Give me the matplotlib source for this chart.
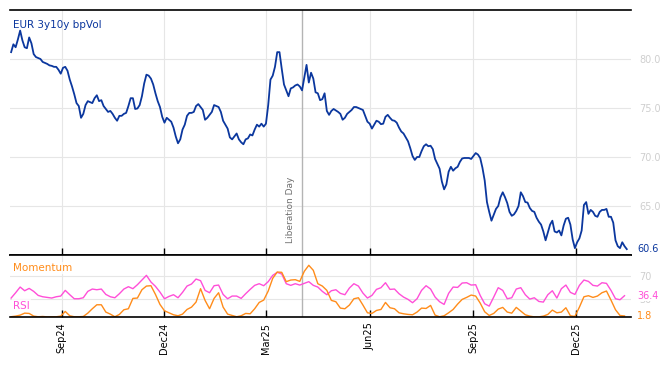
#!/usr/bin/env python3
"""EUR 3y10y bp vol with RSI / momentum sub-panel."""

import matplotlib

matplotlib.use("Agg")
import matplotlib.dates as mdates
import matplotlib.pyplot as plt
import matplotlib.transforms as mtransforms
import pandas as pd


OUT = "out.png"

# main series, one reading every 2 calendar days from the start date
VOL_START = "2024-07-18"
VOL = [
    80.7, 81.5, 81.2, 82.0, 82.9, 81.9, 81.2, 81.1, 82.2, 81.6,
    80.5, 80.2, 80.1, 80.0, 79.7, 79.6, 79.5, 79.35, 79.3, 79.2,
    79.2, 78.9, 78.5, 79.1, 79.2, 78.8, 77.9, 77.2, 76.4, 75.5,
    75.2, 74.0, 74.4, 75.3, 75.7, 75.6, 75.5, 76.0, 76.3, 75.7,
    75.8, 75.2, 74.9, 74.6, 74.7, 74.4, 74.0, 73.7, 74.2, 74.2,
    74.4, 74.5, 75.2, 76.0, 76.0, 74.9, 74.95, 75.3, 76.2, 77.5,
    78.4, 78.3, 78.0, 77.4, 76.5, 75.7, 75.1, 74.1, 73.5, 74.0,
    73.8, 73.6, 73.0, 72.1, 71.4, 71.8, 72.8, 73.3, 74.2, 74.5,
    74.5, 74.6, 75.2, 75.4, 75.1, 74.8, 73.8, 74.0, 74.3, 74.6,
    75.3, 75.2, 75.1, 74.6, 73.7, 73.3, 72.9, 72.0, 71.8, 72.1,
    72.4, 71.8, 71.5, 71.3, 71.8, 71.9, 72.3, 72.2, 72.8, 73.3,
    73.1, 73.4, 73.1, 73.4, 75.3, 77.9, 78.3, 79.2, 80.7, 80.7,
    79.0, 77.4, 76.8, 76.2, 77.0, 77.1, 77.3, 77.4, 77.2, 76.8,
    78.1, 79.4, 77.6, 78.6, 78.0, 76.6, 76.5, 75.8, 75.9, 76.5,
    74.7, 74.3, 74.7, 74.9, 74.75, 74.6, 74.4, 73.8, 74.0, 74.4,
    74.6, 74.8, 75.1, 75.1, 75.0, 74.9, 74.8, 74.2, 73.6, 73.4,
    72.9, 73.3, 73.7, 73.6, 73.35, 73.4, 74.1, 74.3, 74.0, 73.75,
    73.7, 73.5, 73.0, 72.6, 72.4, 72.0, 71.6, 70.9, 70.1, 69.7,
    70.0, 70.0, 70.6, 71.1, 71.3, 71.1, 71.15, 70.8, 69.8, 69.3,
    68.8, 67.5, 66.7, 67.2, 68.5, 69.0, 68.6, 68.85, 69.0, 69.5,
    69.85, 69.9, 69.9, 69.9, 69.8, 70.1, 70.4, 70.25, 69.9, 68.9,
    67.6, 65.4, 64.4, 63.5, 64.1, 64.7, 65.0, 65.9, 66.4, 65.9,
    65.3, 64.4, 64.0, 64.15, 64.5, 65.0, 66.4, 66.0, 65.4, 65.35,
    64.8, 64.5, 64.4, 63.8, 63.4, 63.1, 62.4, 61.5, 62.3, 63.1,
    63.5, 62.4, 62.3, 62.5, 62.0, 63.0, 63.7, 63.8, 63.1, 61.6,
    60.7, 61.3, 61.7, 62.5, 65.1, 65.4, 64.2, 64.6, 64.4, 64.0,
    63.9, 64.4, 64.6, 64.6, 64.7, 63.9, 63.9, 63.3, 61.5, 60.9,
    60.7, 61.3, 60.9, 60.6,
]

# indicators, one reading every 4 calendar days
IND_START = "2024-07-18"
RSI = [
    32.4, 41.5, 51.2, 44.9, 48.9, 43.8, 36.9, 34.6, 33.5, 32.4,
    34.6, 35.8, 45.5, 38.1, 31.2, 31.2, 32.9, 43.8, 47.8, 46.6,
    47.8, 38.6, 34.6, 32.9, 39.8, 47.8, 51.8, 48.4, 55.2, 63.2,
    71.2, 59.8, 52.4, 42.6, 31.2, 35.2, 38.1, 32.9, 42.1, 52.9,
    56.4, 64.9, 62.1, 45.5, 41.5, 53.5, 54.6, 38.6, 31.2, 35.8,
    35.8, 31.8, 39.8, 47.2, 54.1, 56.9, 53.5, 60.4, 71.2, 76.4,
    73.5, 56.9, 54.1, 56.9, 54.6, 57.5, 60.4, 54.1, 51.2, 43.8,
    38.1, 44.9, 46.6, 40.4, 38.1, 49.5, 56.9, 52.9, 40.9, 32.4,
    36.9, 47.2, 50.1, 58.6, 47.2, 47.8, 39.8, 34.1, 30.1, 24.4,
    31.2, 45.5, 53.5, 47.8, 34.1, 26.1, 21.5, 40.4, 51.2, 50.6,
    58.1, 58.6, 54.6, 55.2, 36.9, 22.6, 18.6, 34.1, 50.1, 45.5,
    31.2, 32.9, 47.8, 50.1, 38.1, 30.6, 32.9, 26.6, 25.5, 38.1,
    44.9, 32.4, 48.4, 54.6, 42.1, 38.6, 54.1, 63.2, 60.9, 54.1,
    52.9, 58.6, 57.5, 45.5, 31.2, 29.5, 36.4,
]
MOMENTUM = [
    0.5, 1.5, 3.2, 6.6, 6.1, 1.5, 0.4, 0.9, 0.2, 0.4,
    0.4, 1.5, 9.5, 2.1, 0.4, 0.4, 0.9, 6.6, 14.1, 20.9,
    20.9, 8.4, 4.9, 0.4, 4.4, 12.4, 14.1, 31.8, 32.4, 46.6,
    52.9, 53.5, 38.6, 21.5, 10.6, 7.2, 3.8, 2.1, 4.9, 12.9,
    16.9, 25.5, 48.4, 28.4, 14.1, 31.8, 41.5, 16.9, 4.9, 2.6,
    0.4, 2.1, 6.1, 5.5, 14.1, 24.9, 28.9, 44.4, 66.1, 76.9,
    76.4, 60.4, 63.2, 63.8, 60.9, 78.1, 88.4, 79.8, 56.9, 52.9,
    45.5, 28.4, 26.1, 15.2, 14.1, 20.4, 31.2, 32.9, 20.4, 7.2,
    6.1, 11.2, 12.9, 24.9, 15.8, 14.1, 7.2, 5.5, 4.4, 3.8,
    8.4, 15.2, 14.6, 19.8, 3.2, 0.4, 2.1, 7.2, 12.9, 22.1,
    30.1, 33.5, 37.5, 35.8, 23.8, 8.9, 2.6, 6.1, 13.5, 16.4,
    8.4, 6.6, 16.4, 10.1, 3.8, 1.5, 0.2, 0.2, 1.5, 4.4,
    11.8, 7.2, 8.4, 15.8, 2.1, 0.9, 16.9, 34.6, 36.4, 33.5,
    35.8, 41.5, 44.4, 28.9, 12.4, 2.6, 1.8,
]

VOL_TICKS = [65, 70, 75, 80]
IND_TICKS = [30, 70]
EVENT_DATE = "2025-04-02"
EVENT_LABEL = "Liberation Day"
TITLE = "EUR 3y10y bpVol"

BLUE = "#0b379e"
PINK = "#ff4fd8"
ORANGE = "#ff8c1a"
GRID = "#e6e6e6"
LIGHT = "#cfcfcf"
EVENT = "#b4b4b4"


def style_axes(ax) -> None:
    for side in ("left", "right"):
        ax.spines[side].set_visible(False)
    for side in ("top", "bottom"):
        ax.spines[side].set_color("black")
        ax.spines[side].set_linewidth(1.2)
    ax.yaxis.tick_right()
    ax.tick_params(axis="y", length=0, pad=6, labelsize=7, labelcolor=LIGHT)
    ax.tick_params(axis="x", direction="in", length=5, width=1, color="black")
    ax.grid(True, color=GRID, linewidth=0.8)
    ax.set_axisbelow(True)


def main() -> int:
    vol_dates = pd.date_range(VOL_START, periods=len(VOL), freq="2D")
    ind_dates = pd.date_range(IND_START, periods=len(RSI), freq="4D")
    event = pd.Timestamp(EVENT_DATE)

    fig = plt.figure(figsize=(6.68, 3.66), dpi=100)
    ax = fig.add_axes([10 / 668, 1 - 255 / 366, 621 / 668, 245 / 366])
    low = fig.add_axes([10 / 668, 1 - 317 / 366, 621 / 668, 62 / 366], sharex=ax)

    ax.plot(vol_dates, VOL, color=BLUE, linewidth=1.3)
    ax.set_ylim(60, 85)
    ax.set_yticks(VOL_TICKS)
    ax.yaxis.set_major_formatter(matplotlib.ticker.FormatStrFormatter("%.1f"))
    style_axes(ax)
    ax.tick_params(axis="x", labelbottom=False)

    low.plot(ind_dates, RSI, color=PINK, linewidth=1.0)
    low.plot(ind_dates, MOMENTUM, color=ORANGE, linewidth=1.0)
    low.set_ylim(0, 106)
    low.set_yticks(IND_TICKS)
    style_axes(low)
    low.tick_params(axis="x", labelsize=7, labelrotation=90, pad=4)

    low.xaxis.set_major_locator(mdates.MonthLocator(bymonth=[3, 6, 9, 12]))
    low.xaxis.set_major_formatter(mdates.DateFormatter("%b%y"))
    low.set_xlim(pd.Timestamp("2024-07-17"), pd.Timestamp("2026-01-18 18:00"))

    for a in (ax, low):
        a.axvline(event, color=EVENT, linewidth=1.0, zorder=1.5)
    ax.annotate(EVENT_LABEL, xy=(event, 0.05), xycoords=("data", "axes fraction"),
                xytext=(-5, 0), textcoords="offset points", rotation=90,
                ha="right", va="bottom", fontsize=6.5, color="#707070")

    box = dict(facecolor="white", edgecolor="none", alpha=0.75, pad=1)
    ax.text(0.005, 0.94, TITLE, transform=ax.transAxes, fontsize=7.5, color=BLUE,
            ha="left", va="center")
    low.text(0.005, 0.79, "Momentum", transform=low.transAxes, fontsize=7.5,
             color=ORANGE, ha="left", va="center", bbox=box)
    low.text(0.005, 0.18, "RSI", transform=low.transAxes, fontsize=7.5,
             color=PINK, ha="left", va="center", bbox=box)

    right = mtransforms.blended_transform_factory(ax.transAxes, ax.transData)
    ax.text(1.0097, VOL[-1], f"{VOL[-1]:.1f}", transform=right, fontsize=7,
            color=BLUE, ha="left", va="center")
    right_low = mtransforms.blended_transform_factory(low.transAxes, low.transData)
    low.text(1.0097, RSI[-1], f"{RSI[-1]:.1f}", transform=right_low, fontsize=7,
             color=PINK, ha="left", va="center",
             bbox=dict(facecolor="white", edgecolor="none", pad=0.5))
    low.text(1.0097, MOMENTUM[-1], f"{MOMENTUM[-1]:.1f}", transform=right_low,
             fontsize=7, color=ORANGE, ha="left", va="center")

    fig.savefig(OUT, dpi=100)
    plt.close(fig)
    return 0


if __name__ == "__main__":
    raise SystemExit(main())
